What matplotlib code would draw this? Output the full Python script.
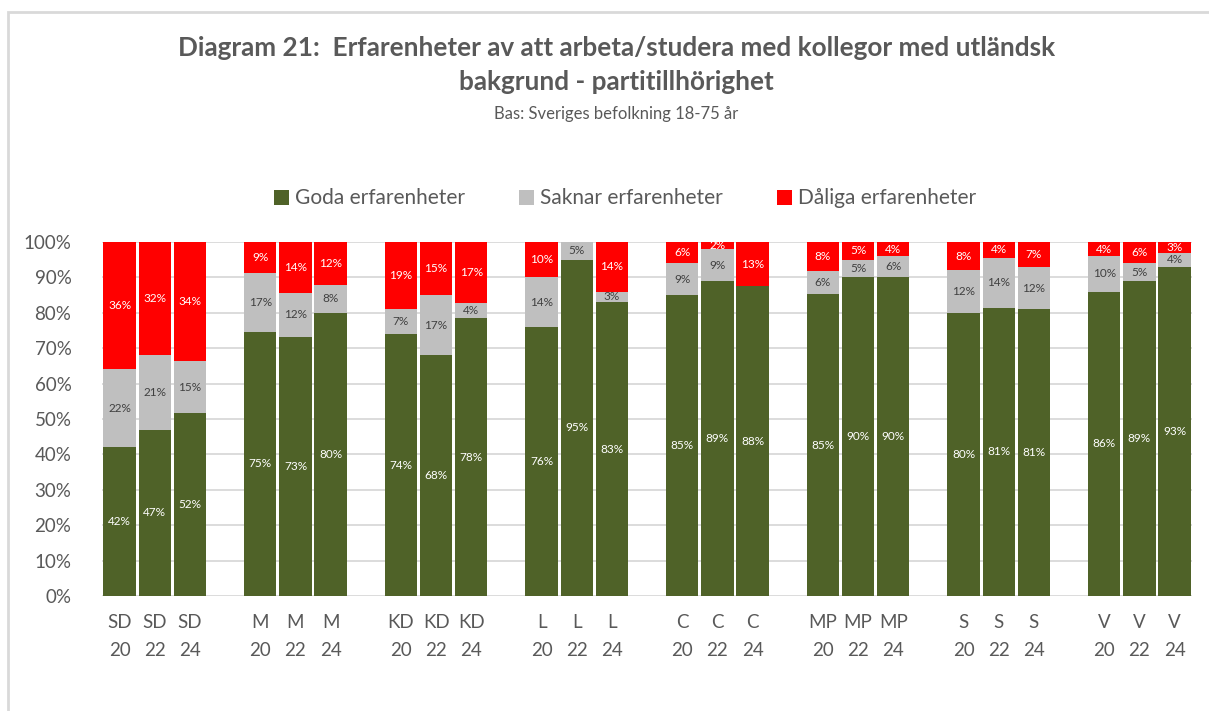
import matplotlib.pyplot as plt
from matplotlib.patches import Rectangle

plt.rcParams['font.family'] = ['Lato', 'DejaVu Sans']

# Partier och år
parties = ['SD', 'M', 'KD', 'L', 'C', 'MP', 'S', 'V']
years = ['20', '22', '24']

# Andelar i procent (samma ordning: parti, sedan år)
goda = [42, 47, 51.6, 74.6, 73.2, 80, 74, 68, 78.4, 76, 95, 83,
        85, 89, 87.5, 85.3, 90, 90, 80, 81.4, 81, 86, 89, 93]
saknar = [22, 21, 14.8, 16.6, 12.4, 8, 7, 17, 4.4, 14, 5, 3,
          9, 9, 0, 6.4, 5, 6, 12, 14.2, 12, 10, 5, 4]
daliga = [36, 32, 33.6, 8.8, 14.4, 12, 19, 15, 17.2, 10, 0, 14,
          6, 2, 12.5, 8.3, 5, 4, 8, 4.4, 7, 4, 6, 3]

series_names = ['Goda erfarenheter', 'Saknar erfarenheter', 'Dåliga erfarenheter']
colors = ['#4F6228', '#BFBFBF', '#FF0000']
label_colors = ['white', '#404040', 'white']

# x-positioner: en tom plats mellan varje parti
x = []
tick_labels = []
for gi, p in enumerate(parties):
    for yi, y in enumerate(years):
        x.append(gi * 4 + yi)
        tick_labels.append(f'{p}\n{y}')

fig = plt.figure(figsize=(12.09, 7.11), dpi=100)
ax = fig.add_axes([0.0844, 0.1617, 0.9016, 0.4979])

bottom = [0] * len(x)
for vals, name, col, lcol in zip([goda, saknar, daliga], series_names, colors, label_colors):
    bars = ax.bar(x, [v / 100 for v in vals], bottom=[b / 100 for b in bottom],
                  width=0.92, color=col, label=name, zorder=2)
    labels = [f'{int(v + 0.5)}%' if v > 0 else '' for v in vals]
    ax.bar_label(bars, labels=labels, label_type='center', color=lcol, fontsize=8.5)
    bottom = [b + v for b, v in zip(bottom, vals)]

ax.set_ylim(0, 1)
ax.set_xlim(-0.5, x[-1] + 0.5)
ax.set_yticks([i / 10 for i in range(11)])
ax.set_yticklabels([f'{i * 10}%' for i in range(11)])
ax.set_xticks(x)
ax.set_xticklabels(tick_labels, linespacing=1.8)
ax.tick_params(axis='both', length=0, labelsize=13.5, colors='#595959')
ax.tick_params(axis='x', pad=13)
ax.tick_params(axis='y', pad=22)
ax.grid(axis='y', color='#D9D9D9', linewidth=1.3, zorder=0)
for s in ax.spines.values():
    s.set_visible(False)

leg = fig.legend(loc='center', bbox_to_anchor=(0.517, 0.721), ncol=3, frameon=False,
                 fontsize=15, handlelength=0.72, handleheight=0.72, handletextpad=0.3,
                 columnspacing=2.6)
for t in leg.get_texts():
    t.set_color('#595959')

fig.text(0.51, 0.932, 'Diagram 21:  Erfarenheter av att arbeta/studera med kollegor med utländsk',
         ha='center', va='center', fontsize=18.8, fontweight='bold', color='#595959')
fig.text(0.51, 0.884, 'bakgrund - partitillhörighet',
         ha='center', va='center', fontsize=18.8, fontweight='bold', color='#595959')
fig.text(0.51, 0.840, 'Bas: Sveriges befolkning 18-75 år',
         ha='center', va='center', fontsize=12, color='#595959')

# ram runt diagrammet
fig.patches.append(Rectangle((8 / 1209, -0.1), 1.2, 1 - 12 / 711 + 0.1,
                             transform=fig.transFigure, fill=False,
                             edgecolor='#D9D9D9', linewidth=2))

fig.savefig('out.png', dpi=100)
